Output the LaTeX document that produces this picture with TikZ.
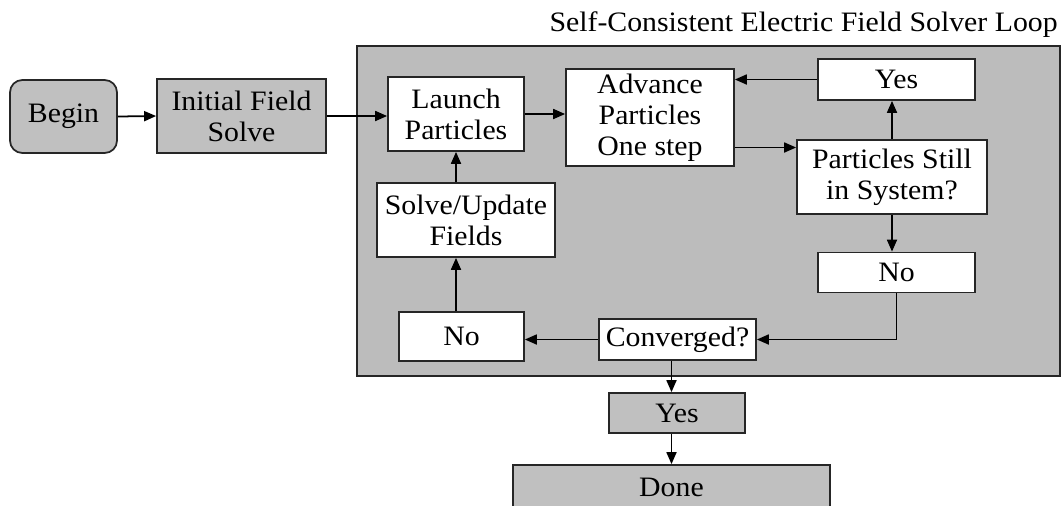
\documentclass[tikz,border=0pt]{standalone}
\usepackage{fontspec}
\setmainfont{Liberation Serif}[FakeStretch=1.06]
\usetikzlibrary{arrows.meta,positioning,calc}
\definecolor{boxgray}{RGB}{192,192,192}
\definecolor{panelgray}{RGB}{188,188,188}

\begin{document}
\begin{tikzpicture}[
        x=0.02cm, y=-0.02cm,
        stepbox/.style={rectangle, draw=black!85, line width=1pt,
            fill=white, align=center, inner sep=2pt,
            font=\fontsize{16}{17.6}\selectfont},
        graybox/.style={stepbox, fill=boxgray},
        flow/.style={-{Triangle[length=2.4mm,width=2mm]}, line width=1pt},
    ]
        \useasboundingbox (0,0) rectangle (1063,505);

        % Loop panel
        \draw[fill=panelgray, draw=black!85, line width=1pt] (357,46) rectangle (1060,376);
        \node[anchor=base east, inner sep=0pt, font=\fontsize{16}{20}\selectfont] (title) at (1058,31)
            {Self-Consistent Electric Field Solver Loop};

        % Start
        \node[graybox, rounded corners=7pt, minimum width=2.14cm, minimum height=1.46cm] (begin) at (63.5,116.5) {Begin};
        \node[graybox, minimum width=3.38cm, minimum height=1.48cm] (init) at (241.5,116) {Initial Field\\Solve};

        % Inside the loop
        \node[stepbox, minimum width=2.72cm, minimum height=1.48cm] (launch) at (456,114) {Launch\\Particles};
        \node[stepbox, minimum width=3.36cm, minimum height=1.94cm] (advance) at (650,117.5) {Advance\\Particles\\One step};
        \node[stepbox, minimum width=3.14cm, minimum height=0.82cm] (yesT) at (896.5,79.5) {Yes};
        \node[stepbox, minimum width=3.80cm, minimum height=1.48cm] (still) at (892,177) {Particles Still\\in System?};
        \node[stepbox, minimum width=3.14cm, minimum height=0.80cm] (noR) at (896.5,272.5) {No};
        \node[stepbox, minimum width=3.56cm, minimum height=1.48cm] (solve) at (466,220) {Solve/Update\\Fields};
        \node[stepbox, minimum width=2.50cm, minimum height=0.98cm] (noL) at (461.5,336.5) {No};
        \node[stepbox, minimum width=3.14cm, minimum height=0.82cm] (conv) at (677.5,339.5) {Converged?};

        % Exit
        \node[graybox, minimum width=2.72cm, minimum height=0.80cm] (yesB) at (677,413) {Yes};
        \node[graybox, minimum width=6.34cm, minimum height=0.90cm] (done) at (671.5,487.5) {Done};

        % Arrows
        \draw[flow] (begin.east) -- (init.west);
        \draw[flow] (init.east) -- (init.east -| launch.west);
        \draw[flow] (launch.east) -- (launch.east -| advance.west);
        \draw[flow] ([yshift=-0.6cm]advance.east) -- ([yshift=-0.6cm]advance.east -| still.west);
        \draw[flow] (still.north) -- (still.north |- yesT.south);
        \draw[flow] (yesT.west) -- (yesT.west -| advance.east);
        \draw[flow] (still.south) -- (still.south |- noR.north);
        \draw[flow] (noR.south) |- (conv.east);
        \draw[flow] (conv.west) -- (conv.west -| noL.east);
        \draw[flow] (noL.north -| launch.south) -- (solve.south -| launch.south);
        \draw[flow] (solve.north -| launch.south) -- (launch.south);
        \draw[flow] (conv.south -| done.north) -- (yesB.north -| done.north);
        \draw[flow] (yesB.south -| done.north) -- (done.north);
    \end{tikzpicture}
\end{document}
